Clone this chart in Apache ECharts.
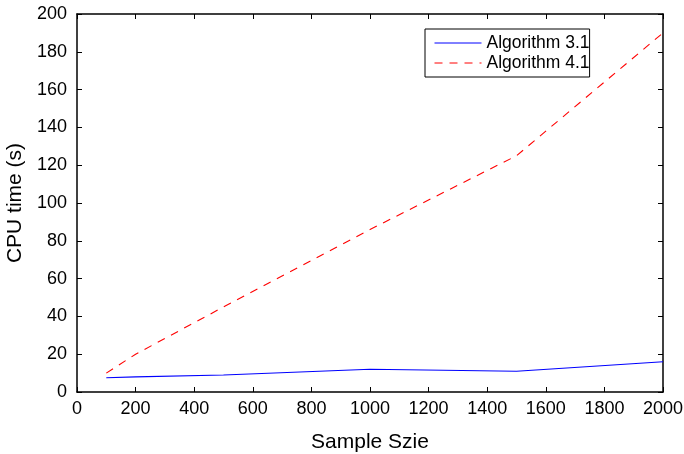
<!DOCTYPE html>
<html>
<head>
<meta charset="utf-8">
<script src="https://cdn.jsdelivr.net/npm/echarts@6/dist/echarts.min.js"></script>
<style>
  html, body { margin: 0; padding: 0; background: #fff; }
  #chart { width: 684px; height: 454px; }
</style>
</head>
<body>
<div id="chart"></div>
<script>
// sample sizes and CPU times
var sampleSize = [100, 200, 500, 1000, 1500, 2000];
var algo31 = [7.5, 8, 9, 12, 11, 16];
var algo41 = [10, 20, 45, 86, 125, 190];

var font = 'Liberation Sans, Arial, Helvetica, sans-serif';

function pairs(xs, ys) {
    return xs.map(function (x, i) { return [x, ys[i]]; });
}

var chart = echarts.init(document.getElementById('chart'));

// shared axis look: black frame with inward ticks
var axisBase = {
    type: 'value',
    axisLine: { show: true, onZero: false, lineStyle: { color: '#000', width: 1.5 } },
    axisTick: { show: true, inside: true, length: 5, lineStyle: { color: '#000', width: 1 } },
    splitLine: { show: false }
};

var option = {
    animation: false,
    grid: { left: 77, top: 14, right: 21, bottom: 62, containLabel: false, outerBoundsMode: 'none' },
    legend: {
        orient: 'vertical',
        left: 425,
        top: 29,
        padding: [5, 0, 5, 9],
        itemGap: 2,
        itemWidth: 47,
        itemHeight: 18,
        backgroundColor: '#fff',
        borderColor: '#000',
        borderWidth: 1,
        itemStyle: { opacity: 0 },
        lineStyle: { width: 1 },
        textStyle: { fontFamily: font, fontSize: 17.5, color: '#000' },
        data: ['Algorithm 3.1', 'Algorithm 4.1']
    },
    xAxis: [
        Object.assign({}, axisBase, {
            position: 'bottom',
            min: 0, max: 2000, interval: 200,
            name: 'Sample Szie',
            nameLocation: 'middle',
            nameGap: 40,
            nameTextStyle: { fontFamily: font, fontSize: 21, color: '#000' },
            axisLabel: { fontFamily: font, fontSize: 18, color: '#000', margin: 8,
                formatter: function (v) { return String(v); } }
        }),
        Object.assign({}, axisBase, {
            position: 'top',
            min: 0, max: 2000, interval: 200,
            axisLabel: { show: false }
        })
    ],
    yAxis: [
        Object.assign({}, axisBase, {
            position: 'left',
            min: 0, max: 200, interval: 20,
            name: 'CPU time (s)',
            nameLocation: 'middle',
            nameGap: 50,
            nameTextStyle: { fontFamily: font, fontSize: 21, color: '#000' },
            axisLabel: { fontFamily: font, fontSize: 18, color: '#000', margin: 10 }
        }),
        Object.assign({}, axisBase, {
            position: 'right',
            min: 0, max: 200, interval: 20,
            axisLabel: { show: false }
        })
    ],
    series: [
        {
            name: 'Algorithm 3.1',
            type: 'line',
            symbol: 'none',
            color: '#0000ff',
            lineStyle: { color: '#0000ff', width: 1.1, type: 'solid' },
            data: pairs(sampleSize, algo31)
        },
        {
            name: 'Algorithm 4.1',
            type: 'line',
            symbol: 'none',
            color: '#ff0000',
            lineStyle: { color: '#ff0000', width: 1.1, type: [8, 7] },
            data: pairs(sampleSize, algo41)
        }
    ]
};

chart.setOption(option);
</script>
</body>
</html>
